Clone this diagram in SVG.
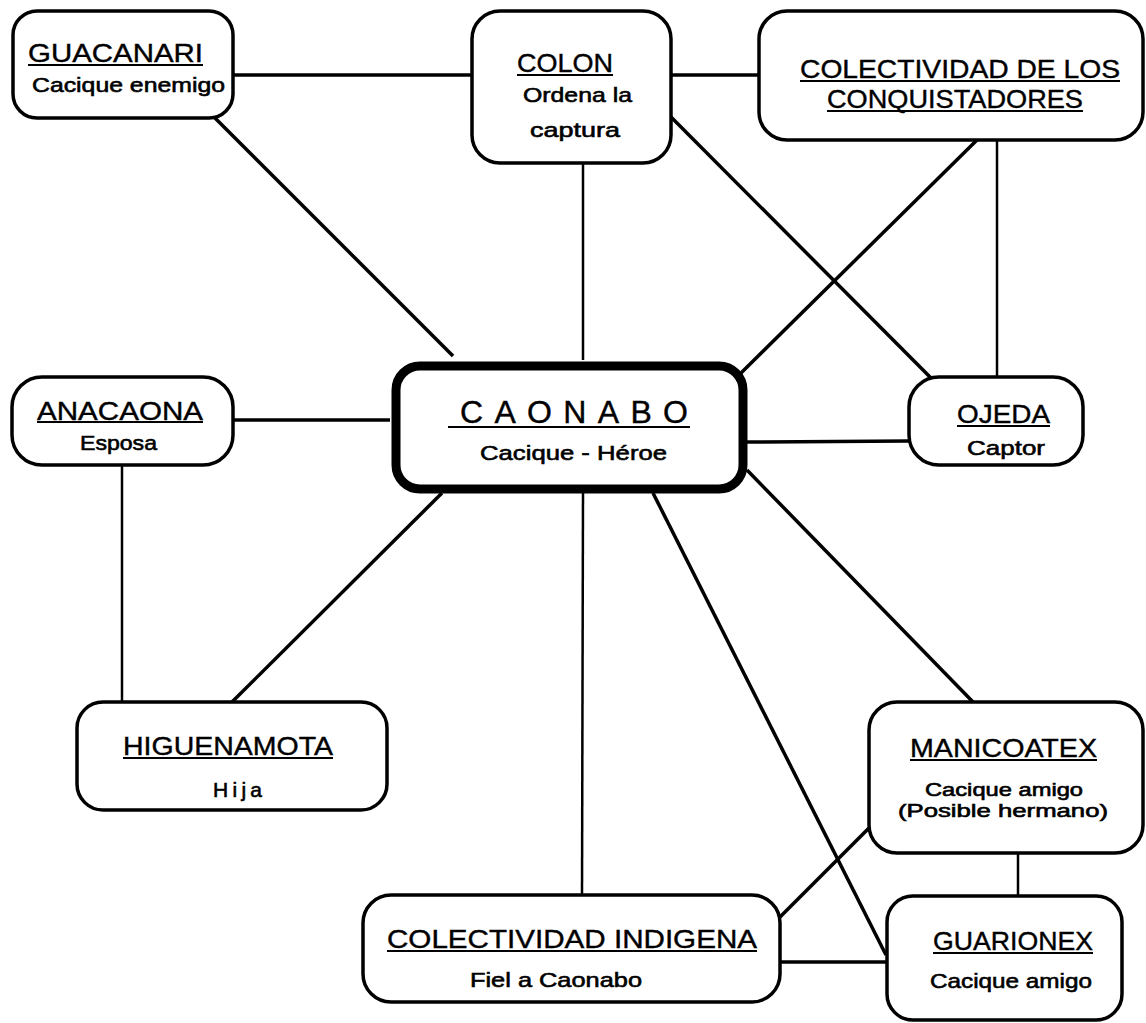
<svg xmlns="http://www.w3.org/2000/svg" width="1146" height="1023" viewBox="0 0 1146 1023">
<style>
.box{fill:#fff;stroke:#000;stroke-width:3.5}
.main{fill:#fff;stroke:#000;stroke-width:9}
.t{font-family:"Liberation Sans",Arial,sans-serif;font-size:26px;fill:#000;stroke:#000;stroke-width:0.4}
.s{font-family:"Liberation Sans",Arial,sans-serif;font-size:21px;fill:#000;stroke:#000;stroke-width:0.6}
.u{stroke:#000;stroke-width:2.2}
.c line{stroke:#000;stroke-width:3.5}
.c line.thin{stroke-width:2.5}
</style>
<rect width="1146" height="1023" fill="#fff"/>
<g class="c" id="connectors">
<line x1="233" y1="75" x2="472" y2="75"/>
<line x1="671" y1="75" x2="759" y2="75"/>
<line x1="215" y1="118" x2="453" y2="356"/>
<line x1="583" y1="163" x2="583" y2="360" class="thin"/>
<line x1="671" y1="117" x2="931" y2="378"/>
<line x1="977" y1="140" x2="741" y2="373"/>
<line x1="997" y1="140" x2="997" y2="377" class="thin"/>
<line x1="233" y1="420" x2="390" y2="420"/>
<line x1="122" y1="465" x2="122" y2="702" class="thin"/>
<line x1="747" y1="442" x2="909" y2="441"/>
<line x1="442" y1="493" x2="232" y2="702"/>
<line x1="583" y1="493" x2="582" y2="895" class="thin"/>
<line x1="653" y1="493" x2="886" y2="955"/>
<line x1="747" y1="470" x2="973" y2="702"/>
<line x1="1018" y1="853" x2="1018" y2="896" class="thin"/>
<line x1="869" y1="828" x2="780" y2="917"/>
<line x1="780" y1="962" x2="887" y2="962"/>
</g>
<g id="guacanari">
<rect class="box" x="13" y="11" width="220" height="107" rx="24"/>
<text class="t" x="28" y="62" textLength="175" lengthAdjust="spacingAndGlyphs">GUACANARI</text>
<line class="u" x1="28" y1="65" x2="203" y2="65"/>
<text class="s" x="32" y="92" textLength="193" lengthAdjust="spacingAndGlyphs">Cacique enemigo</text>
</g>
<g id="colon">
<rect class="box" x="472" y="11" width="199" height="152" rx="28"/>
<text class="t" x="517" y="72" textLength="96" lengthAdjust="spacingAndGlyphs">COLON</text>
<line class="u" x1="517" y1="75" x2="613" y2="75"/>
<text class="s" x="523" y="102" textLength="109" lengthAdjust="spacingAndGlyphs">Ordena la</text>
<text class="s" x="530" y="137" textLength="90" lengthAdjust="spacingAndGlyphs">captura</text>
</g>
<g id="colectividad-conquistadores">
<rect class="box" x="759" y="11" width="384" height="129" rx="28"/>
<text class="t" x="800" y="78" textLength="320" lengthAdjust="spacingAndGlyphs">COLECTIVIDAD DE LOS</text>
<line class="u" x1="800" y1="81" x2="1120" y2="81"/>
<text class="t" x="827" y="108" textLength="256" lengthAdjust="spacingAndGlyphs">CONQUISTADORES</text>
<line class="u" x1="827" y1="111" x2="1083" y2="111"/>
</g>
<g id="anacaona">
<rect class="box" x="12" y="377" width="221" height="88" rx="30"/>
<text class="t" x="37" y="420" textLength="166" lengthAdjust="spacingAndGlyphs">ANACAONA</text>
<line class="u" x1="37" y1="422" x2="203" y2="422"/>
<text class="s" x="80" y="450" textLength="77" lengthAdjust="spacingAndGlyphs">Esposa</text>
</g>
<g id="caonabo">
<rect class="main" x="396" y="366" width="347" height="123" rx="24"/>
<text class="t" x="460" y="423" style="font-size:32px" textLength="228" lengthAdjust="spacing">CAONABO</text>
<line class="u" x1="448" y1="427" x2="690" y2="427"/>
<text class="s" x="480" y="460" textLength="187" lengthAdjust="spacingAndGlyphs">Cacique - Héroe</text>
</g>
<g id="ojeda">
<rect class="box" x="909" y="377" width="174" height="88" rx="30"/>
<text class="t" x="957" y="423" textLength="93" lengthAdjust="spacingAndGlyphs">OJEDA</text>
<line class="u" x1="957" y1="426" x2="1050" y2="426"/>
<text class="s" x="967" y="455" textLength="78" lengthAdjust="spacingAndGlyphs">Captor</text>
</g>
<g id="higuenamota">
<rect class="box" x="77" y="702" width="310" height="108" rx="26"/>
<text class="t" x="123" y="755" textLength="210" lengthAdjust="spacingAndGlyphs">HIGUENAMOTA</text>
<line class="u" x1="123" y1="758" x2="333" y2="758"/>
<text class="s" x="213" y="797" textLength="49" lengthAdjust="spacing">Hija</text>
</g>
<g id="manicoatex">
<rect class="box" x="869" y="702" width="274" height="151" rx="28"/>
<text class="t" x="910" y="757" textLength="187" lengthAdjust="spacingAndGlyphs">MANICOATEX</text>
<line class="u" x1="910" y1="760" x2="1097" y2="760"/>
<text class="s" x="925" y="796" style="font-size:18px" textLength="158" lengthAdjust="spacingAndGlyphs">Cacique amigo</text>
<text class="s" x="898" y="817" style="font-size:18px" textLength="210" lengthAdjust="spacingAndGlyphs">(Posible  hermano)</text>
</g>
<g id="guarionex">
<rect class="box" x="887" y="896" width="235" height="124" rx="26"/>
<text class="t" x="933" y="950" textLength="160" lengthAdjust="spacingAndGlyphs">GUARIONEX</text>
<line class="u" x1="933" y1="953" x2="1093" y2="953"/>
<text class="s" x="930" y="988" textLength="162" lengthAdjust="spacingAndGlyphs">Cacique amigo</text>
</g>
<g id="colectividad-indigena">
<rect class="box" x="363" y="895" width="417" height="107" rx="28"/>
<text class="t" x="387" y="948" textLength="370" lengthAdjust="spacingAndGlyphs">COLECTIVIDAD INDIGENA</text>
<line class="u" x1="387" y1="951" x2="757" y2="951"/>
<text class="s" x="470" y="987" textLength="172" lengthAdjust="spacingAndGlyphs">Fiel a Caonabo</text>
</g>
</svg>
